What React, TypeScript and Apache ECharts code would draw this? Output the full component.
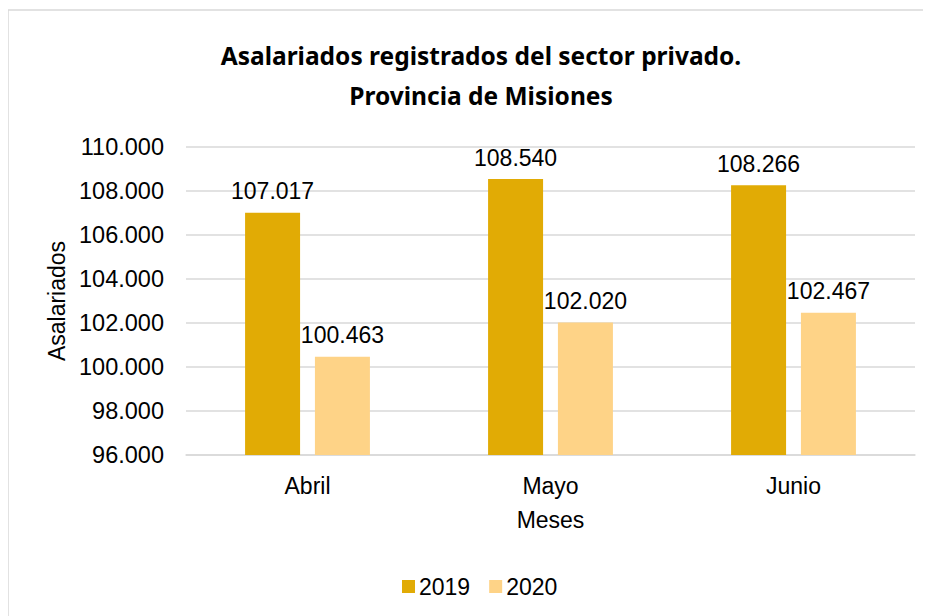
import React, { useEffect, useRef } from "react";
import * as echarts from "echarts";

const categories = ["Abril", "Mayo", "Junio"];
const values2019 = [107017, 108540, 108266];
const values2020 = [100463, 102020, 102467];
const seriesNames = ["2019", "2020"];
const titleText = "Asalariados registrados del sector privado.\nProvincia de Misiones";
const yAxisName = "Asalariados";
const xAxisName = "Meses";

const fmt = (v: number) => String(Math.round(v)).replace(/\B(?=(\d{3})+(?!\d))/g, ".");

export default function App() {
  const ref = useRef<HTMLDivElement>(null);
  useEffect(() => {
    if (!ref.current) return;
    const chart = echarts.init(ref.current, null, { renderer: "svg" });
    const font = "'Liberation Sans', Arial, sans-serif";
    const labelStyle = {
      show: true,
      position: "top" as const,
      distance: 10,
      fontFamily: font,
      fontSize: 23,
      color: "#000",
      formatter: (p: any) => fmt(p.value),
    };
    chart.setOption({
      animation: false,
      backgroundColor: "#fff",
      graphic: [
        {
          type: "rect",
          shape: { x: 0, y: 2, width: 1000, height: 800 },
          style: { fill: "none", stroke: "#d9d9d9", lineWidth: 1.5 },
          silent: true,
        },
      ],
      title: {
        text: titleText,
        left: 468,
        top: 22,
        textAlign: "center",
        textStyle: {
          fontFamily: "'Noto Sans', sans-serif",
          fontWeight: "bold",
          fontSize: 24.5,
          lineHeight: 40,
          color: "#000",
        },
      },
      legend: {
        data: seriesNames,
        left: 389,
        top: 562,
        itemAlign: "center",
        icon: "rect",
        itemWidth: 13,
        itemHeight: 13,
        itemGap: 19,
        textStyle: { fontFamily: font, fontSize: 23, color: "#000", padding: [0, 0, 0, -1] },
      },
      grid: { left: 178, right: 16, top: 139, bottom: 161, containLabel: false },
      xAxis: {
        type: "category",
        data: categories,
        name: xAxisName,
        nameLocation: "middle",
        nameGap: 53,
        nameTextStyle: { fontFamily: font, fontSize: 23, color: "#000" },
        axisLine: { show: true, lineStyle: { color: "#d9d9d9", width: 1.5 } },
        axisTick: { show: false },
        axisLabel: { fontFamily: font, fontSize: 23, color: "#000", margin: 19 },
      },
      yAxis: {
        type: "value",
        min: 96000,
        max: 110000,
        interval: 2000,
        name: yAxisName,
        nameLocation: "middle",
        nameGap: 118,
        nameTextStyle: { fontFamily: font, fontSize: 23, color: "#000" },
        axisLine: { show: false },
        axisTick: { show: false },
        splitLine: { lineStyle: { color: "#d9d9d9", width: 1.5 } },
        axisLabel: { fontFamily: font, fontSize: 23.5, color: "#000", margin: 22, formatter: (v: number) => fmt(v) },
      },
      series: [
        {
          name: seriesNames[0],
          type: "bar",
          data: values2019,
          barWidth: 55,
          barGap: "27%",
          itemStyle: { color: "#E1AB05" },
          label: labelStyle,
        },
        {
          name: seriesNames[1],
          type: "bar",
          data: values2020,
          barWidth: 55,
          itemStyle: { color: "#FED387" },
          label: labelStyle,
        },
      ],
    });
    return () => chart.dispose();
  }, []);
  return <div ref={ref} style={{ width: 923, height: 608 }} />;
}
